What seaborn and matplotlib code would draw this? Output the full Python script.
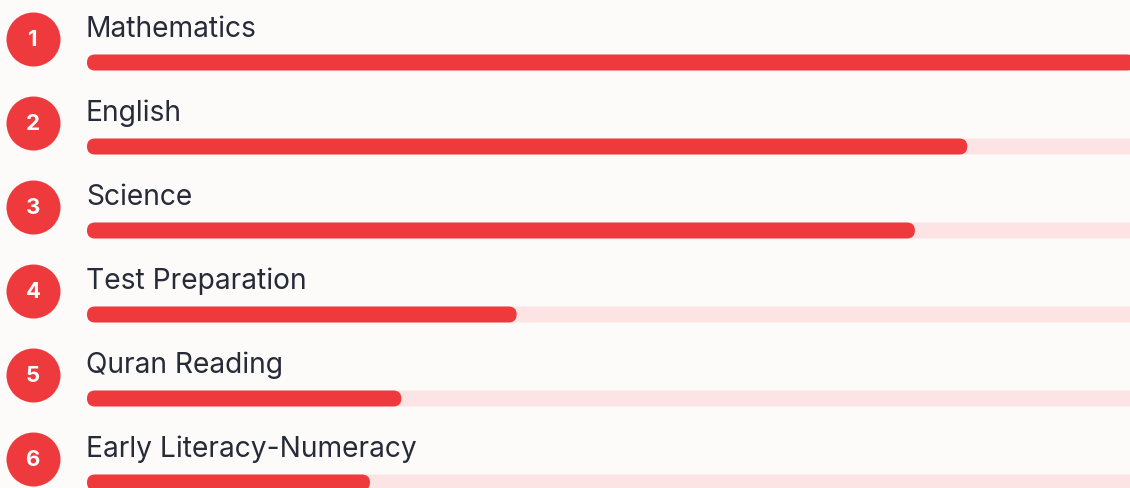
import numpy as np
import pandas as pd
import matplotlib.pyplot as plt
from matplotlib.patches import FancyBboxPatch
import seaborn as sns

# ── data ─────────────────────────────────────────────
subjects = ['Mathematics', 'English', 'Science', 'Test Preparation',
            'Quran Reading', 'Early Literacy-Numeracy']
ranks = [1, 2, 3, 4, 5, 6]
shares = [100, 84, 79, 41, 30, 27]
track_max = 106

# ── style / layout ───────────────────────────────────
RED = '#ef3a3d'
TRACK = '#fce4e4'
BG = '#fdfbfa'
INK = '#272b38'

W, H, DPI = 1130, 489, 100
left_px = 87          # where value 0 sits
px_per_unit = 10.48   # horizontal scale
row_px = 84           # row pitch
first_bar_px = 63.5   # centre of first bar
bar_px = 16           # bar thickness
circle_x_px = 33
circle_off_px = 23.5  # circle centre above bar centre
label_off_px = 26.5   # label baseline above bar centre

sns.set_theme(style='white')
plt.rcParams['font.family'] = ['Inter', 'DejaVu Sans']

df = pd.DataFrame({'subject': subjects, 'rank': ranks, 'share': shares})
df['track'] = track_max

fig = plt.figure(figsize=(W / DPI, H / DPI), dpi=DPI, facecolor=BG)
ax = fig.add_axes([0, 0, 1, 1])
ax.set_facecolor(BG)

sns.barplot(data=df, x='track', y='subject', orient='h', color=TRACK,
            width=bar_px / row_px, saturation=1, ax=ax)
sns.barplot(data=df, x='share', y='subject', orient='h', color=RED,
            width=bar_px / row_px, saturation=1, ax=ax)

# rounded bar ends
r = (bar_px / 2) / px_per_unit
asp = px_per_unit / row_px
for p in list(ax.patches):
    x, y = p.get_x(), p.get_y()
    w, h = p.get_width(), p.get_height()
    fc = p.get_facecolor()
    p.remove()
    ax.add_patch(FancyBboxPatch((x, y), w, h,
                                boxstyle=f'round,pad=0,rounding_size={r}',
                                mutation_aspect=asp, facecolor=fc,
                                edgecolor='none', linewidth=0))

ax.set_xlim(-left_px / px_per_unit, (W - left_px) / px_per_unit)
ax.set_ylim((H - first_bar_px) / row_px, -first_bar_px / row_px)

cx = (circle_x_px - left_px) / px_per_unit
ypos = np.arange(len(df))
ax.scatter(np.full(len(df), cx), ypos - circle_off_px / row_px,
           s=(54 * 72 / DPI) ** 2, color=RED, linewidths=0, zorder=3)

for i, row in df.iterrows():
    ax.text(cx, i - circle_off_px / row_px, str(row['rank']),
            ha='center', va='center', color='white', fontsize=16,
            fontweight='bold', zorder=4)
    ax.text(-1 / px_per_unit, i - label_off_px / row_px, row['subject'],
            ha='left', va='baseline', color=INK, fontsize=20.3)

ax.set_axis_off()
fig.savefig('out.png', dpi=DPI, facecolor=BG)
